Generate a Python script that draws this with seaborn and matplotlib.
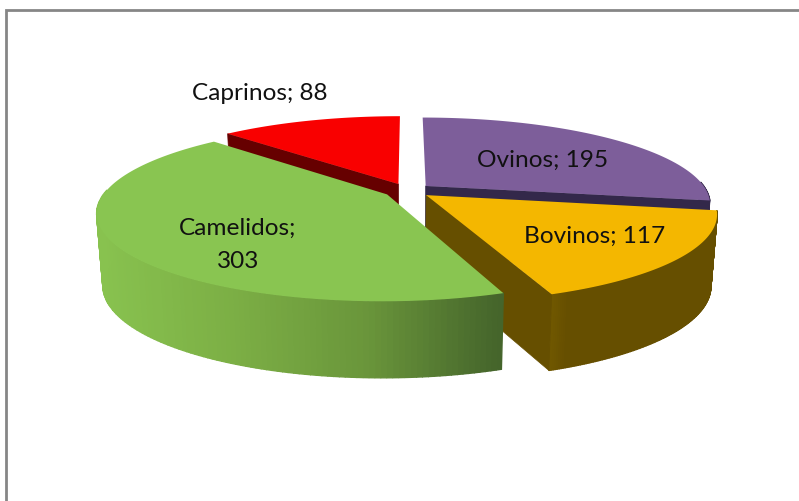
import numpy as np
import matplotlib
matplotlib.use("Agg")
import matplotlib.pyplot as plt
import seaborn as sns

# valores
categorias = ["Ovinos", "Bovinos", "Camelidos", "Caprinos"]
valores = [195, 117, 303, 88]
etiquetas = ["Ovinos; 195", "Bovinos; 117", "Camelidos;\n303", "Caprinos; 88"]

colores_top = ["#7D5E9A", "#F4B700", "#89C551", "#F90000"]
colores_lado = ["#33284A", "#664F00", "#5F8236", "#660000"]
# gradiente del borde exterior: claro a la izquierda, oscuro a la derecha
gradientes = [
    ["#33284A", "#33284A"],
    ["#735A00", "#664F00", "#664F00", "#664F00"],
    ["#88C24F", "#7CAF45", "#6A963B", "#45652B"],
    ["#660000", "#660000"],
]

# posiciones de las etiquetas en pixeles
pos_etiquetas = [(543, 160), (595, 236), (238, 245), (260, 93)]

# --- geometria de la torta 3D ---
cx, cy = 407.5, 191.5
R = 281
k = 0.298      # aplastamiento vertical
p = 0.20       # perspectiva
explode = 24
prof = 70.5    # altura del cilindro


def proyectar(u, v):
    s = 1 / (1 + p * v / R)
    return cx + u * s, cy - k * v * s, s


def base(x, y, s):
    return cx + (x - cx) * 0.98, y + prof * s ** 0.35


sns.set_theme(style="white")
plt.rcParams["font.family"] = ["Lato", "DejaVu Sans"]

fig, ax = plt.subplots(figsize=(7.99, 5.02), dpi=100)
fig.patch.set_facecolor("white")
ax.set_position([0, 0, 1, 1])
ax.set_xlim(0, 799)
ax.set_ylim(502, 0)
ax.axis("off")

# marco del grafico
ax.plot([6, 6, 799], [502, 11, 11], color="#868686", lw=2, solid_joinstyle="miter")

total = sum(valores)
fin = np.cumsum(valores) / total * 2 * np.pi
ini = np.r_[0, fin[:-1]]

# orden de dibujo: de atras hacia adelante
for i in [3, 0, 1, 2]:
    medio = (ini[i] + fin[i]) / 2
    ou, ov = explode * np.sin(medio), explode * np.cos(medio)
    th = np.linspace(ini[i], fin[i], 160)
    xs, ys, ss = proyectar(ou + R * np.sin(th), ov + R * np.cos(th))
    bx, by = base(xs, ys, ss)
    ax0, ay0, as0 = proyectar(ou, ov)
    bx0, by0 = base(ax0, ay0, as0)

    # borde exterior con gradiente por tiras, solo la parte de adelante
    pal = sns.blend_palette(gradientes[i], 200)
    for j in range(len(th) - 1):
        if np.cos(th[j]) > 0.05:
            continue
        t = np.clip((xs[j] - 97) / (500 - 97), 0, 1) if i == 2 else np.clip((xs[j] - 548) / 60, 0, 1)
        c = pal[int(t * 199)]
        ax.fill([xs[j], xs[j + 1], bx[j + 1], bx[j]], [ys[j], ys[j + 1], by[j + 1], by[j]],
                color=c, lw=1.0)

    # cara radial visible
    if i in (0, 1):
        ax.fill([ax0, xs[-1], bx[-1], bx0], [ay0, ys[-1], by[-1], by0], color=colores_lado[i], lw=0.5)
    elif i == 3:
        ax.fill([ax0, xs[0], bx[0], bx0], [ay0, ys[0], by[0], by0], color=colores_lado[i], lw=0.5)

    # cara superior
    ax.fill(np.r_[ax0, xs], np.r_[ay0, ys], color=colores_top[i], lw=0)

for txt, (x, y) in zip(etiquetas, pos_etiquetas):
    ax.text(x, y, txt, ha="center", va="center", fontsize=17.6, color="#111111", linespacing=1.7)

plt.savefig("out.png", dpi=100)
